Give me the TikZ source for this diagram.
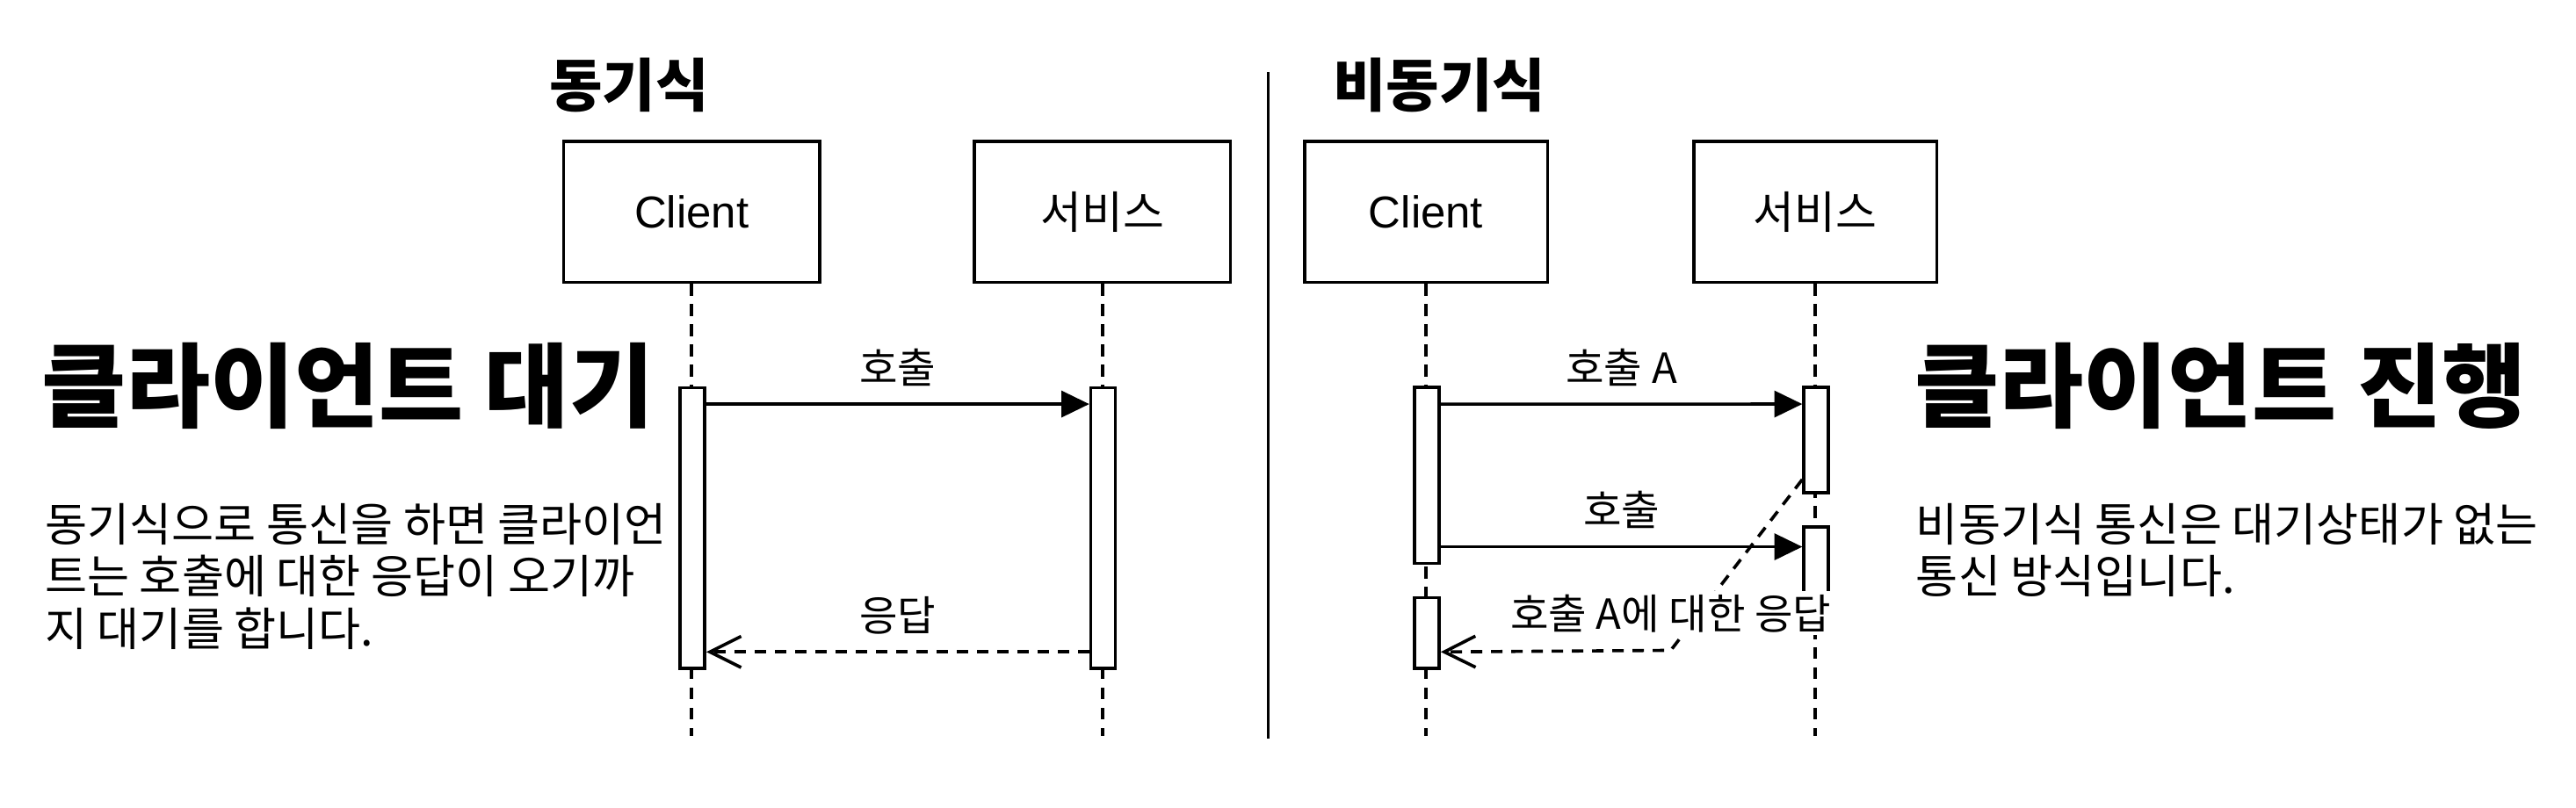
\documentclass[tikz,border=0pt]{standalone}
\usepackage{fontspec}
\setmainfont{Noto Sans CJK KR}
\newfontfamily\latinfont{Liberation Sans}
\usetikzlibrary{arrows.meta}

\begin{document}
\begin{tikzpicture}[x=0.02cm, y=-0.02cm,
    actor/.style={draw, line width=1.1pt, minimum height=1.72cm, inner sep=0pt, font=\fontsize{15.5}{18}\selectfont},
    act/.style={draw, fill=white, line width=1.1pt, minimum width=0.3cm, inner sep=0pt},
    life/.style={line width=1.1pt, dash pattern=on 4pt off 3pt},
    call/.style={line width=1.1pt, -{Triangle[length=0.34cm, width=0.32cm]}},
    reply/.style={line width=1.1pt, dash pattern=on 4pt off 3pt, -{Straight Barb[length=0.38cm, width=0.38cm]}},
    msg/.style={font=\fontsize{14.4}{16}\selectfont, inner sep=0pt},
    head/.style={font=\fontsize{20}{24}\selectfont\bfseries},
    big/.style={font=\fontsize{31.8}{36}\selectfont\bfseries, anchor=west, inner sep=0pt},
    para/.style={font=\fontsize{15.9}{18.2}\selectfont, align=left, anchor=north west, inner sep=0pt}]
    %%%%% START %%%%%
    \useasboundingbox (0,0) rectangle (1568,492);

    \node[head] (sync) at (383,52) {동기식};
    \node[head] (async) at (876,52) {비동기식};

    \coordinate (divtop) at (772,44);
    \coordinate (divbot) at (772,450);
    \draw[line width=1.1pt] (divtop) -- (divbot);

    % actors
    \node[actor, minimum width=3.12cm] (c1) at (421,129) {\latinfont Client};
    \node[actor, minimum width=3.12cm] (s1) at (671,129) {서비스};
    \node[actor, minimum width=2.96cm] (c2) at (868,129) {\latinfont Client};
    \node[actor, minimum width=2.96cm] (s2) at (1105,129) {서비스};

    \coordinate (c1end) at (421,448);
    \coordinate (s1end) at (671,448);
    \coordinate (c2end) at (868,448);
    \coordinate (s2end) at (1105,448);
    \draw[life] (c1) -- (c1end);
    \draw[life] (s1) -- (s1end);
    \draw[life] (c2) -- (c2end);
    \draw[life] (s2) -- (s2end);

    % activations
    \node[act, minimum height=3.42cm] (a1) at (421.5,321.5) {};
    \node[act, minimum height=3.42cm] (a2) at (671.5,321.5) {};
    \node[act, minimum height=2.14cm] (b1) at (868.5,289.5) {};
    \node[act, minimum height=0.86cm] (b2) at (868.5,385.5) {};
    \node[act, minimum height=1.28cm] (d1) at (1105.5,268) {};
    \node[act, minimum height=1.18cm] (d2) at (1105.5,350.5) {};

    % messages
    \draw[call] ([yshift=-0.22cm]a1.north east) -- ([yshift=-0.22cm]a2.north west)
        node[msg, midway, above=0.2cm] (m1) {호출};
    \draw[reply] ([yshift=0.22cm]a2.south west) -- ([yshift=0.22cm]a1.south east)
        node[msg, midway, above=0.2cm] (m2) {응답};

    \draw[call] ([yshift=-0.22cm]b1.north east) -- ([yshift=-0.22cm]d1.north west)
        node[msg, midway, above=0.2cm] (m3) {호출 A};
    \draw[call] ([yshift=0.22cm]b1.south east) -- ([yshift=0.22cm]d2.north west |- b1.south east)
        node[msg, midway, above=0.2cm] (m4) {호출};
    \coordinate (bend) at (1017,396);
    \draw[reply] ([yshift=0.18cm]d1.south west) -- (bend) -- ([yshift=0.22cm]b2.south east);
    \node[msg, fill=white, inner sep=1pt, above=0.18cm] (m5) at (bend) {호출 A에 대한 응답};

    % notes
    \node[big] (wait) at (25,235) {클라이언트 대기};
    \node[para] (waitnote) at (27,306) {동기식으로 통신을 하면 클라이언\\트는 호출에 대한 응답이 오기까\\지 대기를 합니다.};
    \node[big] (go) at (1165,235) {클라이언트 진행};
    \node[para] (gonote) at (1166,306) {비동기식 통신은 대기상태가 없는\\통신 방식입니다.};
    %%%%% END %%%%%
\end{tikzpicture}
\end{document}
